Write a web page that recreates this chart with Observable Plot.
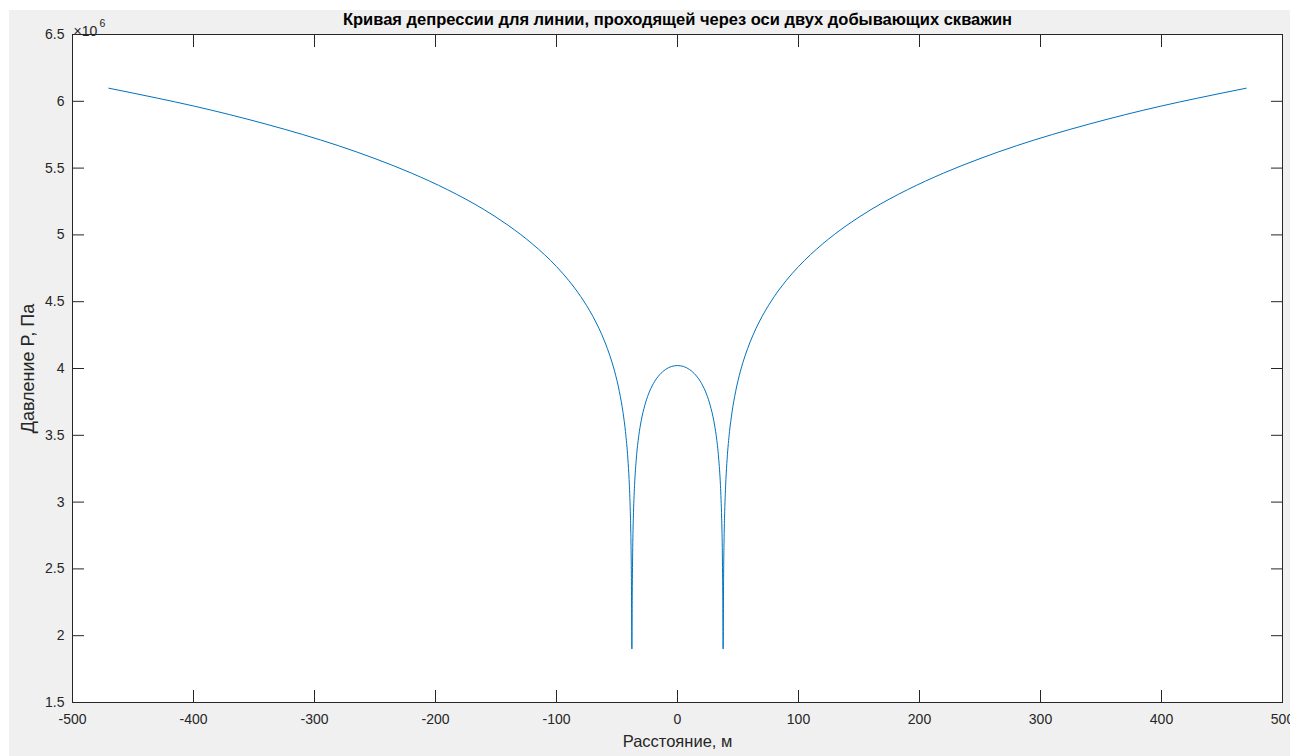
<!DOCTYPE html>
<html>
<head>
<meta charset="utf-8">
<script src="https://cdn.jsdelivr.net/npm/d3@7"></script>
<script src="https://cdn.jsdelivr.net/npm/@observablehq/plot@0.6"></script>
<style>
  html, body { margin: 0; padding: 0; background: #ffffff; }
  #bg { position: absolute; left: 9px; top: 10px; width: 1281px; height: 746px; background: #f0f0f0; }
  #chart { position: absolute; left: 0; top: 0; }
</style>
</head>
<body>
<div id="bg"></div>
<div id="chart"></div>
<script>
// Distance along the line through both wells, m
const distance = [
  -470, -430, -400, -370, -340, -310, -280, -250, -220, -190, -160, -140, -120, -100, -90, -80, -70, -65, -60, -56, -52, -48, -45, -43, -41, -40, -39.5, -39, -38.6, -38.1, -37.7,
  -37.4, -37, -36.5, -36, -35.5, -34, -32, -30, -27, -24, -20, -15, -10, -5, 0,
  5, 10, 15, 20, 24, 27, 30, 32, 34, 35.5, 36, 36.5, 37, 37.4, 37.7,
  38.1, 38.6, 39, 39.5, 40, 41, 43, 45, 48, 52, 56, 60, 65, 70, 80, 90, 100, 120, 140, 160, 190, 220, 250, 280, 310, 340, 370, 400, 430, 470
];
// Pressure P, Pa
const pressure = [
  6.098e6, 6.024e6, 5.965e6, 5.900e6, 5.829e6, 5.752e6, 5.667e6, 5.571e6, 5.463e6, 5.338e6, 5.190e6, 5.072e6, 4.933e6, 4.763e6, 4.660e6, 4.539e6, 4.391e6, 4.302e6, 4.198e6, 4.099e6, 3.980e6, 3.826e6, 3.669e6, 3.528e6, 3.322e6, 3.168e6, 3.064e6, 2.929e6, 2.774e6, 2.437e6, 1.900e6,
  2.314e6, 2.660e6, 2.880e6, 3.021e6, 3.125e6, 3.330e6, 3.497e6, 3.609e6, 3.725e6, 3.808e6, 3.886e6, 3.951e6, 3.992e6, 4.015e6, 4.022e6,
  4.015e6, 3.992e6, 3.951e6, 3.886e6, 3.808e6, 3.725e6, 3.609e6, 3.497e6, 3.330e6, 3.125e6, 3.021e6, 2.880e6, 2.660e6, 2.314e6, 1.900e6,
  2.437e6, 2.774e6, 2.929e6, 3.064e6, 3.168e6, 3.322e6, 3.528e6, 3.669e6, 3.826e6, 3.980e6, 4.099e6, 4.198e6, 4.302e6, 4.391e6, 4.539e6, 4.660e6, 4.763e6, 4.933e6, 5.072e6, 5.190e6, 5.338e6, 5.463e6, 5.571e6, 5.667e6, 5.752e6, 5.829e6, 5.900e6, 5.965e6, 6.024e6, 6.098e6
];
const xTicks = [-500, -400, -300, -200, -100, 0, 100, 200, 300, 400, 500];
const yTicks = [1.5e6, 2e6, 2.5e6, 3e6, 3.5e6, 4e6, 4.5e6, 5e6, 5.5e6, 6e6, 6.5e6];
const yTickLabels = ["1.5", "2", "2.5", "3", "3.5", "4", "4.5", "5", "5.5", "6", "6.5"];
const titleText = "Кривая депрессии для линии, проходящей через оси двух добывающих скважин";
const xLabel = "Расстояние, м";
const yLabel = "Давление P, Па";

const data = distance.map((d, i) => ({x: d, p: pressure[i]}));
const axisColor = "#262626";
const font = "Liberation Sans, Arial, sans-serif";

const chart = Plot.plot({
  width: 1290,
  height: 756,
  marginLeft: 72,
  marginTop: 34,
  marginRight: 8,
  marginBottom: 54,
  style: {background: "transparent", fontFamily: font, fontSize: "14px", color: axisColor},
  x: {domain: [-500, 500]},
  y: {domain: [1.5e6, 6.5e6]},
  marks: [
    Plot.frame({fill: "white", stroke: "none"}),
    Plot.line(data, {x: "x", y: "p", stroke: "#0072BD", strokeWidth: 1, curve: "monotone-x"}),
    Plot.frame({stroke: axisColor, strokeWidth: 1}),
    // x ticks, inward, bottom and top
    Plot.axisX({anchor: "bottom", ticks: xTicks, tickSize: 12, dy: -12, fill: "none", stroke: axisColor, label: null}),
    Plot.axisX({anchor: "top", ticks: xTicks, tickSize: 12, dy: 12, fill: "none", stroke: axisColor, label: null}),
    Plot.axisX({anchor: "bottom", ticks: xTicks, tickSize: 0, tickPadding: 12, fill: axisColor, fontSize: 14, label: null, tickFormat: d => String(d)}),
    // y ticks, inward, left and right
    Plot.axisY({anchor: "left", ticks: yTicks, tickSize: 12, dx: 12, fill: "none", stroke: axisColor, label: null}),
    Plot.axisY({anchor: "right", ticks: yTicks, tickSize: 12, dx: -12, fill: "none", stroke: axisColor, label: null}),
    Plot.axisY({anchor: "left", ticks: yTicks, tickSize: 0, tickPadding: 8, fill: axisColor, fontSize: 14, label: null,
      tickFormat: d => yTickLabels[yTicks.indexOf(d)]}),
    // exponent
    Plot.text(["×10"], {frameAnchor: "top-left", text: d => d, textAnchor: "start", dy: -8, dx: 1, fontSize: 14, fill: axisColor}),
    Plot.text(["6"], {frameAnchor: "top-left", text: d => d, textAnchor: "start", dy: -15, dx: 27, fontSize: 10.5, fill: axisColor}),
    // title and axis labels
    Plot.text([titleText], {frameAnchor: "top", text: d => d, dy: -21, fontSize: 16.5, fontWeight: "bold", fill: "#000"}),
    Plot.text([xLabel], {frameAnchor: "bottom", text: d => d, dy: 44, fontSize: 16.5, fill: axisColor}),
    Plot.text([yLabel], {frameAnchor: "left", text: d => d, textAnchor: "middle", dx: -44, rotate: -90, fontSize: 18, fill: axisColor})
  ]
});
document.getElementById("chart").appendChild(chart);
</script>
</body>
</html>
